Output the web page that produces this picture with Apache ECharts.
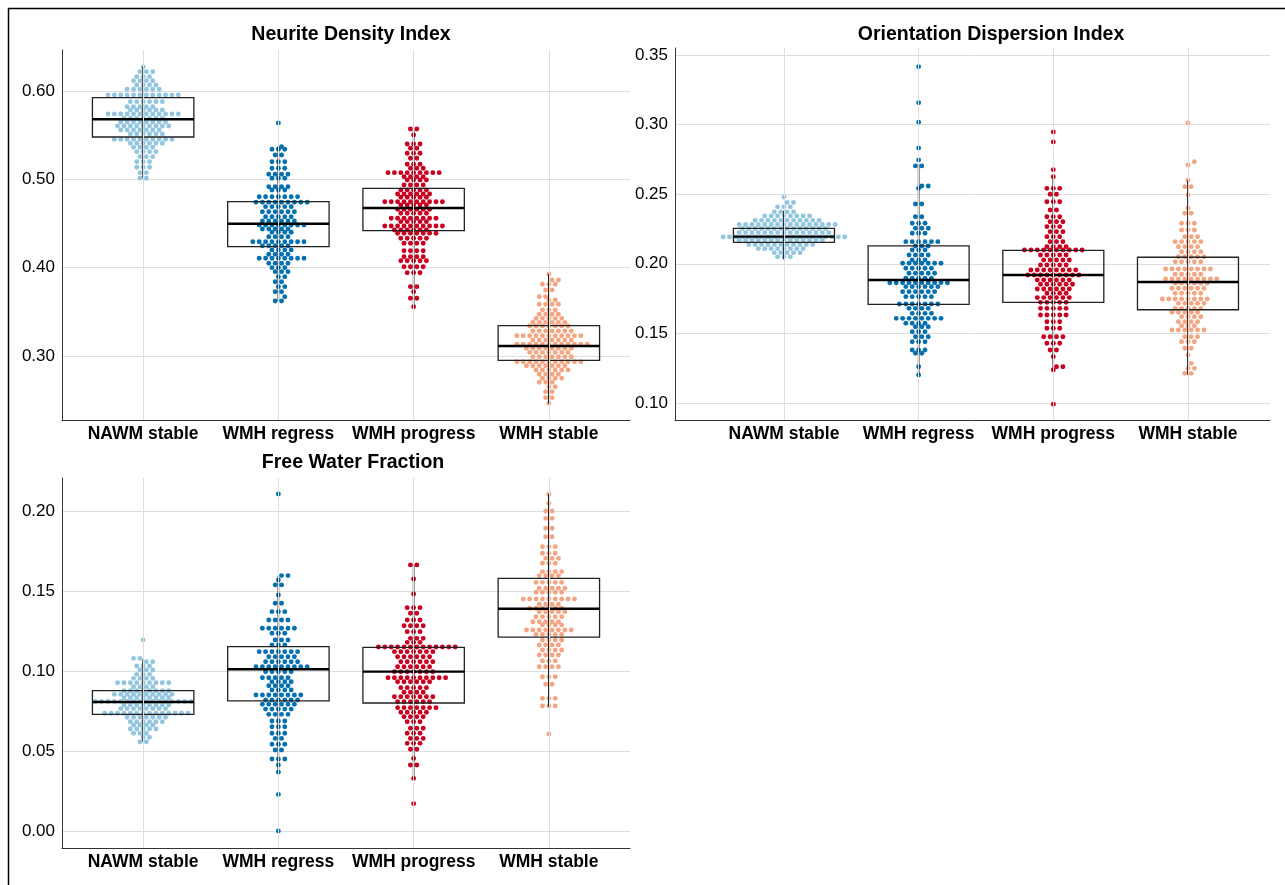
<!DOCTYPE html>
<html>
<head>
<meta charset="utf-8">
<script src="https://cdn.jsdelivr.net/npm/echarts@6/dist/echarts.min.js"></script>
<style>
  html, body { margin: 0; padding: 0; background: #fff; }
  #main { width: 1285px; height: 885px; }
</style>
</head>
<body>
<div id="main"></div>
<script>
// groups on the x axis
var categories = ['NAWM stable', 'WMH regress', 'WMH progress', 'WMH stable'];
var groupColors = ['#92C5DE', '#0571B0', '#CA0020', '#F4A582'];

// dots: [value, number of dots]
var ndiNawm = [[0.6275,1],[0.6219,3],[0.6162,3],[0.6117,4],[0.6068,4],[0.6019,6],[0.5955,12],[0.5879,6],[0.5822,5],[0.5785,6],[0.574,12],[0.5691,7],[0.5649,8],[0.5604,9],[0.5558,7],[0.5513,6],[0.5453,10],[0.5408,6],[0.5362,4],[0.5313,4],[0.5256,3],[0.5199,3],[0.5136,3],[0.5075,2],[0.5011,2]];
var ndiRegress = [[0.5638,1],[0.5369,1],[0.534,3],[0.5275,2],[0.5199,3],[0.5125,3],[0.5057,4],[0.5011,3],[0.4916,4],[0.4879,3],[0.4803,7],[0.474,9],[0.469,5],[0.4633,6],[0.4576,5],[0.4528,6],[0.4482,8],[0.4437,5],[0.44,4],[0.435,4],[0.4293,9],[0.4248,5],[0.42,4],[0.4151,4],[0.4105,8],[0.4049,4],[0.3999,3],[0.3954,3],[0.3897,2],[0.384,2],[0.3784,2],[0.3727,2],[0.367,1],[0.3622,2]];
var ndiProgress = [[0.557,2],[0.5502,1],[0.54,3],[0.5351,2],[0.5294,3],[0.5238,2],[0.517,3],[0.5125,3],[0.5075,9],[0.503,4],[0.4992,4],[0.4935,4],[0.4879,5],[0.4833,6],[0.4796,5],[0.4746,10],[0.4709,5],[0.466,6],[0.4615,5],[0.4558,8],[0.452,5],[0.4471,10],[0.4426,6],[0.4388,7],[0.4332,5],[0.4275,4],[0.4191,4],[0.4123,4],[0.4078,5],[0.401,4],[0.3942,3],[0.3784,2],[0.3727,1],[0.3652,2],[0.3557,1]];
var ndiStable = [[0.3924,1],[0.386,2],[0.3811,3],[0.3746,2],[0.367,2],[0.3633,2],[0.3584,4],[0.352,3],[0.3471,4],[0.3425,5],[0.338,6],[0.3338,7],[0.3282,7],[0.3229,11],[0.318,7],[0.3131,12],[0.3086,8],[0.304,7],[0.2991,7],[0.2934,11],[0.2889,7],[0.284,6],[0.2792,4],[0.2746,4],[0.2701,3],[0.2651,2],[0.2595,2],[0.2527,2],[0.2463,1]];

var odiNawm = [[0.248,1],[0.244,2],[0.2409,3],[0.2373,4],[0.2344,8],[0.2312,11],[0.2282,16],[0.2253,14],[0.2224,15],[0.2193,20],[0.2169,14],[0.2138,11],[0.2109,8],[0.208,5],[0.205,3]];
var odiRegress = [[0.3416,1],[0.3157,1],[0.3017,1],[0.2832,1],[0.2746,1],[0.2703,2],[0.2559,2],[0.2542,1],[0.243,2],[0.2338,2],[0.2291,3],[0.2255,3],[0.2219,3],[0.2159,6],[0.2128,3],[0.2099,3],[0.2063,4],[0.2027,3],[0.2004,7],[0.1968,5],[0.1932,5],[0.1896,5],[0.1864,10],[0.1836,6],[0.18,6],[0.1764,5],[0.1711,7],[0.168,4],[0.1644,4],[0.1608,8],[0.1573,4],[0.1548,3],[0.1512,3],[0.1476,3],[0.144,3],[0.1381,3],[0.1357,2],[0.1261,1],[0.1201,1]];
var odiProgress = [[0.2947,1],[0.2875,1],[0.2676,1],[0.2626,1],[0.2542,3],[0.2499,2],[0.2446,3],[0.2386,2],[0.2338,3],[0.2302,3],[0.2267,3],[0.2231,3],[0.2195,3],[0.2159,3],[0.2123,4],[0.2099,10],[0.2063,5],[0.2027,5],[0.1991,5],[0.1955,8],[0.192,9],[0.1884,6],[0.1853,6],[0.1819,6],[0.1788,4],[0.1757,6],[0.1723,5],[0.168,5],[0.1632,5],[0.1584,3],[0.1537,3],[0.1476,4],[0.1429,3],[0.1381,2],[0.1333,1],[0.1261,2],[0.1237,1],[0.0991,1]];
var odiStable = [[0.3012,1],[0.2733,1],[0.271,1],[0.26,1],[0.2554,2],[0.2494,1],[0.2399,1],[0.2363,2],[0.2291,3],[0.2243,3],[0.2195,3],[0.2159,5],[0.2123,4],[0.2087,4],[0.2051,5],[0.2015,5],[0.1963,8],[0.1925,5],[0.1891,9],[0.186,6],[0.1824,6],[0.1788,5],[0.1747,8],[0.1716,5],[0.168,5],[0.1652,5],[0.162,4],[0.1584,4],[0.1555,3],[0.1524,6],[0.1476,3],[0.144,3],[0.1393,2],[0.1345,1],[0.1285,1],[0.1249,2],[0.1213,2]];

var fwfNawm = [[0.1194,1],[0.1079,2],[0.1058,2],[0.1031,3],[0.1006,3],[0.0979,3],[0.0954,4],[0.0927,9],[0.0902,4],[0.0877,8],[0.0854,10],[0.0833,8],[0.081,16],[0.0788,8],[0.0765,8],[0.0736,14],[0.0711,7],[0.0683,6],[0.0663,4],[0.0638,5],[0.0611,3],[0.0586,2],[0.0558,2]];
var fwfRegress = [[0.2106,1],[0.1596,2],[0.1569,1],[0.1538,2],[0.1475,1],[0.1423,2],[0.1371,3],[0.1319,4],[0.1267,6],[0.1236,3],[0.1194,3],[0.1163,3],[0.1121,7],[0.1089,5],[0.1058,6],[0.1027,9],[0.0996,5],[0.0958,5],[0.0933,4],[0.0908,4],[0.0881,4],[0.085,8],[0.0819,6],[0.0792,6],[0.0762,5],[0.0729,4],[0.0688,3],[0.0652,3],[0.0611,3],[0.0579,2],[0.0542,3],[0.0506,2],[0.045,3],[0.0413,1],[0.0367,1],[0.0229,1],[0.0,1]];
var fwfProgress = [[0.1663,2],[0.1575,1],[0.1481,1],[0.1396,3],[0.1361,2],[0.1319,3],[0.1283,4],[0.1246,3],[0.1204,3],[0.1179,3],[0.115,13],[0.1121,7],[0.1089,6],[0.1058,6],[0.1027,6],[0.0996,7],[0.0958,10],[0.0933,6],[0.0896,5],[0.0867,4],[0.0839,7],[0.0808,6],[0.0771,7],[0.0742,5],[0.0714,4],[0.0683,3],[0.0642,3],[0.0611,3],[0.0579,3],[0.0548,3],[0.0511,2],[0.0454,1],[0.0413,2],[0.0329,1],[0.0171,1]];
var fwfStable = [[0.2104,1],[0.2048,1],[0.2,2],[0.1954,2],[0.1892,2],[0.1839,2],[0.1777,3],[0.1736,3],[0.1704,3],[0.1673,3],[0.1621,4],[0.1596,4],[0.1554,5],[0.1517,5],[0.1492,5],[0.145,9],[0.1417,4],[0.1392,6],[0.1371,5],[0.1339,5],[0.1308,5],[0.1288,4],[0.1256,8],[0.1229,5],[0.1194,4],[0.1163,4],[0.1131,4],[0.11,4],[0.1063,3],[0.1027,4],[0.0964,3],[0.0917,2],[0.0829,3],[0.0781,3],[0.0606,1]];

// box stats per group: [whisker low, Q1, median, Q3, whisker high]
var ndiBox = [[0.5011,0.5479,0.568,0.5924,0.6275],[0.3622,0.4237,0.4497,0.4746,0.5377],[0.3557,0.4418,0.4675,0.4898,0.5558],[0.2463,0.295,0.3112,0.3342,0.3924]];
var odiBox = [[0.2032,0.2154,0.2195,0.2255,0.2381],[0.1201,0.1709,0.1884,0.2128,0.2717],[0.1237,0.1723,0.192,0.2097,0.2626],[0.1201,0.167,0.1869,0.2047,0.26]];
var fwfBox = [[0.0558,0.0729,0.0806,0.0877,0.1073],[0.0367,0.0813,0.1011,0.1152,0.1596],[0.0329,0.08,0.0996,0.1148,0.1663],[0.0777,0.1212,0.1389,0.1579,0.2104]];

var panels = [
  { title: 'Neurite Density Index', titleX: 346, titleY: 20, grid: { left: 62, top: 50, width: 568, height: 370 },
    xRange: [0.4, 4.6], yRange: [0.2274, 0.6464], groups: [ndiNawm, ndiRegress, ndiProgress, ndiStable], box: ndiBox },
  { title: 'Orientation Dispersion Index', titleX: 986, titleY: 20, grid: { left: 675, top: 48, width: 595, height: 372 },
    xRange: [0.191, 4.609], yRange: [0.0878, 0.355], groups: [odiNawm, odiRegress, odiProgress, odiStable], box: odiBox },
  { title: 'Free Water Fraction', titleX: 348, titleY: 448, grid: { left: 62, top: 478, width: 568, height: 370 },
    xRange: [0.4, 4.6], yRange: [-0.0106, 0.2206], groups: [fwfNawm, fwfRegress, fwfProgress, fwfStable], box: fwfBox }
];

var FONT = 'Liberation Sans';
var DOT_R = 2.45;     // dot radius, px
var DOT_STEP = 6.4;   // distance between neighbours in a row, px
var MIN_DIST = 5.5;   // wanted distance between any two dot centres, px

var chart = echarts.init(document.getElementById('main'));

var grids = [], xAxes = [], yAxes = [], titles = [], series = [];
panels.forEach(function (p, i) {
  grids.push(Object.assign({ containLabel: false }, p.grid));
  titles.push({
    text: p.title, left: p.titleX, top: p.titleY, textAlign: 'center',
    textStyle: { fontFamily: FONT, fontSize: 19.5, fontWeight: 'bold', color: '#000' }
  });
  xAxes.push({
    gridIndex: i, type: 'value', min: p.xRange[0], max: p.xRange[1],
    axisLine: { show: true, onZero: false, lineStyle: { color: '#333', width: 1 } },
    axisTick: { show: false },
    splitLine: { show: false },
    axisLabel: {
      customValues: [1, 2, 3, 4],
      formatter: function (v) { return categories[Math.round(v) - 1] || ''; },
      fontFamily: FONT, fontSize: 17.5, fontWeight: 'bold', color: '#000', margin: 5
    }
  });
  yAxes.push({
    gridIndex: i, type: 'value', min: p.yRange[0], max: p.yRange[1], splitNumber: 5,
    axisLine: { show: true, onZero: false, lineStyle: { color: '#333', width: 1 } },
    axisTick: { show: false },
    splitLine: { show: true, showMinLine: false, showMaxLine: false, lineStyle: { color: '#dedede', width: 1 } },
    axisLabel: {
      showMinLabel: false, showMaxLabel: false,
      formatter: function (v) { return v.toFixed(2); },
      fontFamily: FONT, fontSize: 17, color: '#000', margin: 7
    }
  });
  // vertical grid lines at the groups
  series.push({
    type: 'scatter', xAxisIndex: i, yAxisIndex: i, data: [], z: 1, silent: true,
    markLine: {
      silent: true, symbol: ['none', 'none'], label: { show: false },
      lineStyle: { color: '#dedede', width: 1, type: 'solid' },
      data: [1, 2, 3, 4].map(function (c) { return { xAxis: c }; })
    }
  });
});

chart.setOption({
  animation: false,
  backgroundColor: '#fff',
  title: titles,
  grid: grids,
  xAxis: xAxes,
  yAxis: yAxes,
  graphic: [{
    type: 'rect', silent: true,
    shape: { x: 8.5, y: 8.5, width: 1400, height: 1000 },
    style: { fill: 'none', stroke: '#000', lineWidth: 1.5 }
  }],
  series: series
});

// each row of dots sits side by side around the group centre; the row is
// nudged sideways by half a step when that keeps it clear of its neighbours
function rowOffsets(rows, i, g) {
  var sorted = rows.slice().sort(function (a, b) { return a[0] - b[0]; });
  var placed = [];
  var out = [];
  sorted.forEach(function (r) {
    var y = chart.convertToPixel({ gridIndex: i }, [g + 1, r[0]])[1];
    var n = r[1];
    var near = placed.filter(function (q) { return Math.abs(q.y - y) < MIN_DIST; });
    var shifts = n <= 2 ? [0, DOT_STEP / 2, -DOT_STEP / 2, DOT_STEP, -DOT_STEP] : [0, DOT_STEP / 2, -DOT_STEP / 2];
    var best = 0, bestCost = Infinity;
    shifts.forEach(function (s) {
      var cost = 0;
      for (var k = 0; k < n; k++) {
        var x = (k - (n - 1) / 2) * DOT_STEP + s;
        near.forEach(function (q) {
          var d = Math.sqrt((q.x - x) * (q.x - x) + (q.y - y) * (q.y - y));
          if (d < MIN_DIST) cost += MIN_DIST - d;
        });
      }
      cost += Math.abs(s) * 0.01;
      if (cost < bestCost) { bestCost = cost; best = s; }
    });
    for (var k = 0; k < n; k++) {
      var x = (k - (n - 1) / 2) * DOT_STEP + best;
      placed.push({ x: x, y: y });
      out.push([g + 1, r[0], x]);
    }
  });
  return out;
}

function dotItem(params, api) {
  var p = api.coord([api.value(0), api.value(1)]);
  return {
    type: 'circle',
    shape: { cx: p[0] + api.value(2), cy: p[1], r: DOT_R },
    style: { fill: api.visual('color') }
  };
}

function boxItem(params, api) {
  var x = api.value(0), lo = api.value(1), q1 = api.value(2), med = api.value(3), q3 = api.value(4), hi = api.value(5);
  var a = api.coord([x - 0.375, q3]), b = api.coord([x + 0.375, q1]);
  var m = api.coord([x, med]), top = api.coord([x, hi]), bot = api.coord([x, lo]);
  return {
    type: 'group',
    children: [
      { type: 'line', shape: { x1: top[0], y1: top[1], x2: bot[0], y2: bot[1] }, style: { stroke: '#111', lineWidth: 1.6 } },
      { type: 'rect', shape: { x: a[0], y: a[1], width: b[0] - a[0], height: b[1] - a[1] }, style: { fill: 'none', stroke: '#222', lineWidth: 1.3 } },
      { type: 'line', shape: { x1: a[0], y1: m[1], x2: b[0], y2: m[1] }, style: { stroke: '#000', lineWidth: 2.4 } }
    ]
  };
}

var more = [];
panels.forEach(function (p, i) {
  p.groups.forEach(function (rows, g) {
    more.push({
      type: 'custom', name: categories[g], xAxisIndex: i, yAxisIndex: i, z: 3, silent: true,
      itemStyle: { color: groupColors[g] },
      encode: { x: 0, y: 1 },
      renderItem: dotItem,
      data: rowOffsets(rows, i, g)
    });
  });
  more.push({
    type: 'custom', xAxisIndex: i, yAxisIndex: i, z: 4, silent: true,
    encode: { x: 0, y: [1, 2, 3, 4, 5] },
    renderItem: boxItem,
    data: p.box.map(function (b, g) { return [g + 1].concat(b); })
  });
});

chart.setOption({ series: series.concat(more) });
</script>
</body>
</html>
